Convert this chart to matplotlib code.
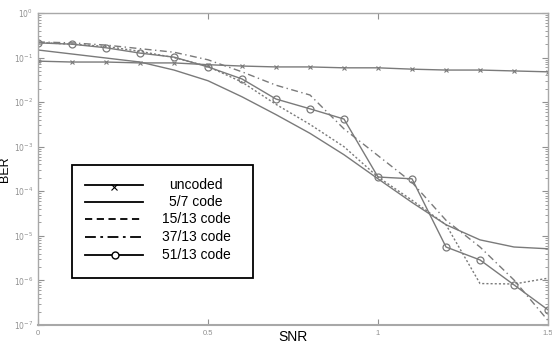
import numpy as np
import matplotlib
matplotlib.use("Agg")
import matplotlib.pyplot as plt
from matplotlib.lines import Line2D
from matplotlib.patches import Rectangle

plt.rcParams['font.family'] = ['Liberation Sans', 'DejaVu Sans']

snr = [0.0, 0.1, 0.2, 0.3, 0.4, 0.5, 0.6, 0.7, 0.8, 0.9, 1.0, 1.1, 1.2, 1.3, 1.4, 1.5]
# log10(BER) values
log_uncoded = [-1.08, -1.10, -1.10, -1.12, -1.12, -1.16, -1.19, -1.21, -1.21, -1.23, -1.23, -1.26, -1.28, -1.28, -1.30, -1.32]
log_57 = [-0.83, -0.92, -1.01, -1.10, -1.28, -1.52, -1.88, -2.28, -2.70, -3.18, -3.72, -4.25, -4.75, -5.09, -5.25, -5.29]
log_1513 = [-0.66, -0.70, -0.75, -0.86, -1.00, -1.20, -1.55, -2.05, -2.50, -3.00, -3.68, -4.20, -4.75, -6.07, -6.08, -5.95]
log_3713 = [-0.65, -0.67, -0.72, -0.80, -0.88, -1.05, -1.32, -1.62, -1.84, -2.60, -3.20, -3.80, -4.65, -5.25, -5.99, -6.90]
log_5113 = [-0.67, -0.70, -0.78, -0.90, -0.99, -1.21, -1.48, -1.93, -2.15, -2.38, -3.68, -3.72, -5.25, -5.54, -6.10, -6.66]

labels = ['uncoded', '5/7 code', '15/13 code', '37/13 code', '51/13 code']
xticks = [0, 0.5, 1, 1.5]
xtick_labels = ['0', '0.5', '1', '1.5']

def ber(lv):
    return 10.0 ** np.array(lv)

fig = plt.figure(figsize=(5.52, 3.45), dpi=100)
ax = fig.add_axes([38/552, 1-325/345, (548-38)/552, (325-13)/345])

gc = '#7a7a7a'
ax.semilogy(snr, ber(log_uncoded), color=gc, lw=1.0, marker='x', ms=3, mew=0.8)
ax.semilogy(snr, ber(log_57), color=gc, lw=1.0)
ax.semilogy(snr, ber(log_1513), color=gc, lw=1.0, dashes=(1.5, 1.5))
ax.semilogy(snr, ber(log_3713), color=gc, lw=1.0, dashes=(5, 2.5, 1, 2.5))
ax.semilogy(snr, ber(log_5113), color=gc, lw=1.0, marker='o', ms=5, mfc='none', mew=0.9)

ax.set_xlim(0, 1.5)
ax.set_ylim(1e-7, 1)
ax.set_xticks(xticks)
ax.set_xticklabels(xtick_labels)
ax.set_yticks([10.0**k for k in range(-7, 1)])
ax.set_yticklabels([r'$10^{%d}$' % k for k in range(-7, 1)])
ax.tick_params(axis='both', which='both', direction='in', top=True, right=True,
               colors='#909090', labelcolor='#909090', labelsize=5.5)
ax.tick_params(axis='both', which='major', length=4)
ax.tick_params(axis='y', which='minor', length=2)
for s in ax.spines.values():
    s.set_color('#a8a8a8')
    s.set_linewidth(1.0)
ax.spines['bottom'].set_linewidth(1.5)

ax.set_xlabel('SNR', fontsize=10, labelpad=-5)
ax.set_ylabel('BER', fontsize=9, labelpad=2)

# manual legend (MATLAB style, centered text)
def fx(px):
    return px / 552
def fy(py):
    return 1 - py / 345

fig.patches.append(Rectangle((fx(72), fy(278)), fx(253) - fx(72), fy(165) - fy(278),
                             transform=fig.transFigure, fill=True, facecolor='white',
                             edgecolor='black', lw=1.3, zorder=5))
rows = [185, 202, 219, 237, 255]
styles = [dict(ls='-'), dict(ls='-'), dict(ls=(0, (4, 2.5))), dict(ls=(0, (6, 2.5, 1.5, 2.5))), dict(ls='-')]
for i, (lab, py) in enumerate(zip(labels, rows)):
    l = Line2D([fx(85), fx(143)], [fy(py), fy(py)], transform=fig.transFigure,
               color='black', lw=1.3, zorder=6, **styles[i])
    fig.lines.append(l)
    if i == 0:
        fig.lines.append(Line2D([fx(114)], [fy(py + 1.5)], transform=fig.transFigure,
                                marker='x', ms=4, color='black', mew=0.8, ls='none', zorder=6))
    if i == 4:
        fig.lines.append(Line2D([fx(115)], [fy(py)], transform=fig.transFigure,
                                marker='o', ms=5, color='black', mfc='white', mew=1.0, ls='none', zorder=7))
    fig.text(fx(196), fy(py), lab, ha='center', va='center', fontsize=10, zorder=8)

fig.savefig('out.png', dpi=100)
